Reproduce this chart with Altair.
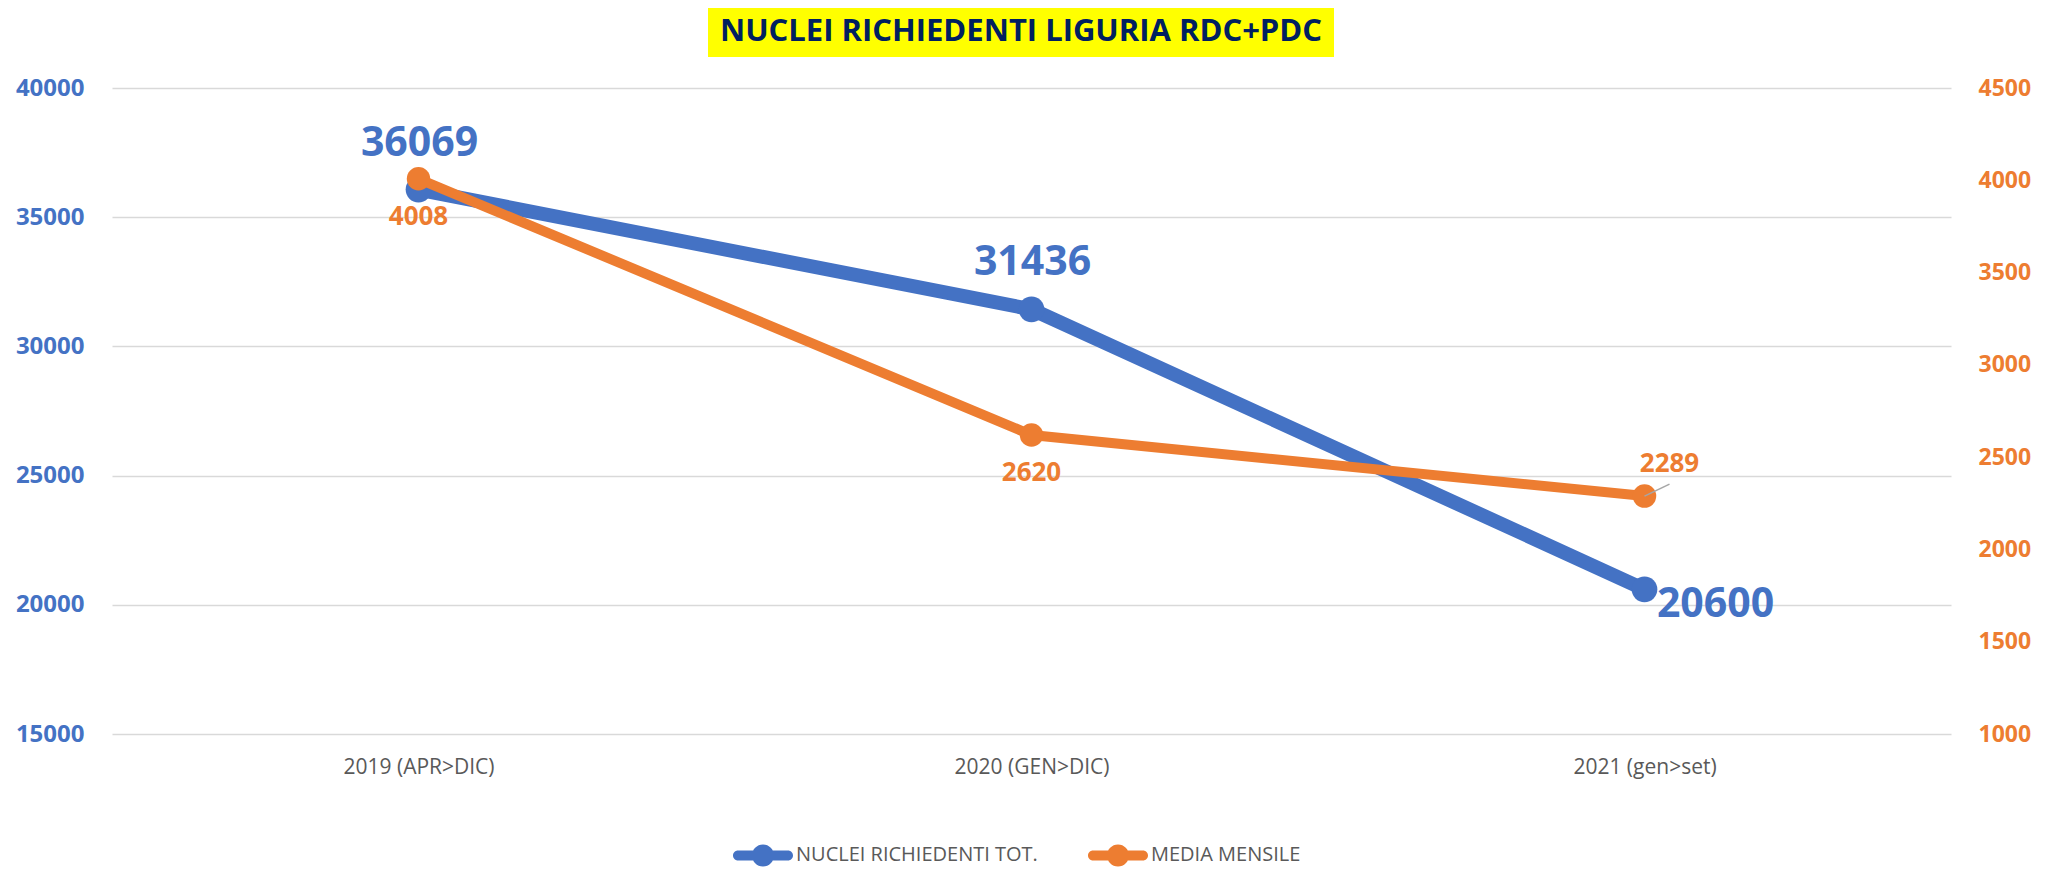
import altair as alt
import pandas as pd

# ---- data ----
categories = ["2019 (APR>DIC)", "2020 (GEN>DIC)", "2021 (gen>set)"]
nuclei_tot = [36069, 31436, 20600]
media_mensile = [4008, 2620, 2289]
series_names = ["NUCLEI RICHIEDENTI TOT.", "MEDIA MENSILE"]
left_ticks = [15000, 20000, 25000, 30000, 35000, 40000]
right_ticks = [1000, 1500, 2000, 2500, 3000, 3500, 4000, 4500]
title_text = "NUCLEI RICHIEDENTI LIGURIA RDC+PDC"

BLUE = "#4472C4"
ORANGE = "#ED7D31"
GRAY_TXT = "#595959"
FONT = "Open Sans"

df = pd.DataFrame({"cat": categories, "nuclei": nuclei_tot, "media": media_mensile})

W, H = 1839, 646

x_enc = alt.X(
    "cat:N",
    sort=categories,
    scale=alt.Scale(type="point", padding=0.5),
    axis=alt.Axis(
        title=None, labelAngle=0, domain=False, ticks=False, grid=False,
        labelFont=FONT, labelFontSize=21, labelColor=GRAY_TXT, labelPadding=22,
    ),
)

y_left = alt.Y(
    "nuclei:Q",
    scale=alt.Scale(domain=[left_ticks[0], left_ticks[-1]], nice=False, zero=False),
    axis=alt.Axis(
        values=left_ticks, title=None, domain=False, ticks=False, grid=True,
        gridColor="#D9D9D9", gridWidth=1.5, format="d",
        labelFont=FONT, labelFontWeight="bold", labelFontSize=24,
        labelColor=BLUE, labelPadding=28, orient="left",
    ),
)

y_right = alt.Y(
    "media:Q",
    scale=alt.Scale(domain=[right_ticks[0], right_ticks[-1]], nice=False, zero=False),
    axis=alt.Axis(
        values=right_ticks, title=None, domain=False, ticks=False, grid=False,
        format="d", labelFont=FONT, labelFontWeight="bold", labelFontSize=23,
        labelColor=ORANGE, labelPadding=27, orient="right",
    ),
)

legend_path = (
    "M-0.833,-0.167 L0.833,-0.167 A0.167,0.167 0 0,1 0.833,0.167 "
    "L-0.833,0.167 A0.167,0.167 0 0,1 -0.833,-0.167 Z "
    "M0,-0.367 A0.367,0.367 0 1,1 0,0.367 A0.367,0.367 0 1,1 0,-0.367 Z"
)

color_enc = alt.Color(
    "series:N",
    scale=alt.Scale(domain=series_names, range=[BLUE, ORANGE]),
    legend=alt.Legend(
        title=None, orient="none", direction="horizontal",
        legendX=621, legendY=737,
        symbolType=legend_path, symbolSize=3600, symbolStrokeWidth=0,
        labelFont=FONT, labelFontSize=20, labelColor=GRAY_TXT, labelLimit=500,
        labelOffset=3, columnPadding=50,
    ),
)

base = alt.Chart(df)

# ---- blue series (left axis) ----
blue_line = base.mark_line(color=BLUE, strokeWidth=14).encode(x=x_enc, y=y_left)
blue_pts = base.transform_calculate(series="'" + series_names[0] + "'").mark_circle(
    size=660, opacity=1
).encode(x=x_enc, y=y_left, color=color_enc)
blue_lab_above = base.transform_filter(alt.datum.nuclei > 25000).mark_text(
    font=FONT, fontSize=41, fontWeight="bold", color=BLUE,
    align="center", baseline="middle", dx=1, dy=-46,
).encode(x=x_enc, y=y_left, text=alt.Text("nuclei:Q", format="d"))
blue_lab_right = base.transform_filter(alt.datum.nuclei <= 25000).mark_text(
    font=FONT, fontSize=41, fontWeight="bold", color=BLUE,
    align="center", baseline="middle", dx=71, dy=16,
).encode(x=x_enc, y=y_left, text=alt.Text("nuclei:Q", format="d"))

left = alt.layer(blue_line, blue_pts, blue_lab_above, blue_lab_right)

# ---- orange series (right axis) ----
or_line = base.mark_line(color=ORANGE, strokeWidth=10).encode(x=x_enc, y=y_right)
or_pts = base.transform_calculate(series="'" + series_names[1] + "'").mark_circle(
    size=550, opacity=1
).encode(x=x_enc, y=y_right, color=color_enc)
or_leader = base.transform_filter(alt.datum.media < 2500).mark_rule(
    color="#A6A6A6", strokeWidth=1.5, x2Offset=25, y2Offset=-12,
).encode(x=x_enc, x2=alt.X2("cat:N"), y=y_right, y2=alt.Y2("media:Q"))
or_lab_below = base.transform_filter(alt.datum.media >= 2500).mark_text(
    font=FONT, fontSize=26, fontWeight="bold", color=ORANGE,
    align="center", baseline="middle", dx=0, dy=38,
).encode(x=x_enc, y=y_right, text=alt.Text("media:Q", format="d"))
or_lab_above = base.transform_filter(alt.datum.media < 2500).mark_text(
    font=FONT, fontSize=26, fontWeight="bold", color=ORANGE,
    align="center", baseline="middle", dx=25, dy=-32,
).encode(x=x_enc, y=y_right, text=alt.Text("media:Q", format="d"))

right = alt.layer(or_line, or_pts, or_leader, or_lab_below, or_lab_above)

# ---- title with yellow box ----
tdata = alt.Data(values=[{"t": title_text}])
title_box = alt.Chart(tdata).mark_rect(color="#FFFF00").encode(
    x=alt.value(596), x2=alt.value(1222), y=alt.value(-84), y2=alt.value(-31)
)
title_txt = alt.Chart(tdata).mark_text(
    font=FONT, fontSize=31, fontWeight="bold", color="#002060",
    align="center", baseline="middle",
).encode(x=alt.value(909), y=alt.value(-56), text="t:N")

chart = (
    alt.layer(left, right, title_box, title_txt)
    .resolve_scale(y="independent")
    .properties(
        width=W, height=H,
        autosize=alt.AutoSizeParams(type="none"),
        padding={"left": 104, "top": 80, "right": 92, "bottom": 133},
        background="white",
    )
    .configure_view(strokeWidth=0)
)

chart.save("out.html", embed_options={"renderer": "svg", "actions": False})
